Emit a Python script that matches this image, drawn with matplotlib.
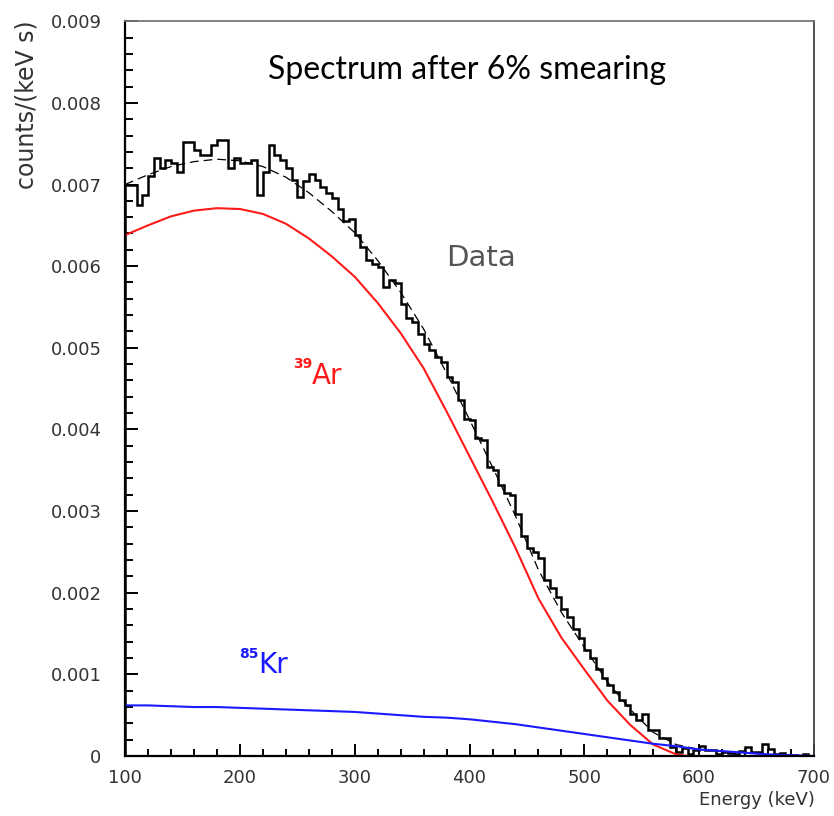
import numpy as np
import matplotlib.pyplot as plt
from matplotlib.ticker import MultipleLocator, FuncFormatter

# histogram: 5 keV bins from 100 to 700 keV, values in units of 1e-3 counts/(keV s)
bin_edges = np.arange(100, 701, 5)
data_counts = [
    7.00, 6.99, 6.75, 6.87, 7.11, 7.32, 7.20, 7.30, 7.26, 7.15,
    7.52, 7.52, 7.42, 7.36, 7.36, 7.48, 7.54, 7.54, 7.20, 7.32,
    7.26, 7.26, 7.30, 6.87, 7.15, 7.48, 7.36, 7.30, 7.20, 7.05,
    6.85, 7.04, 7.13, 7.05, 6.97, 6.89, 6.83, 6.70, 6.55, 6.58,
    6.38, 6.24, 6.07, 6.03, 5.99, 5.75, 5.83, 5.79, 5.54, 5.36,
    5.32, 5.17, 5.05, 4.97, 4.89, 4.83, 4.64, 4.58, 4.36, 4.13,
    4.11, 3.89, 3.87, 3.54, 3.50, 3.32, 3.22, 3.20, 2.97, 2.70,
    2.55, 2.50, 2.42, 2.15, 2.06, 1.95, 1.80, 1.70, 1.55, 1.44,
    1.30, 1.20, 1.07, 0.95, 0.87, 0.79, 0.69, 0.62, 0.52, 0.44,
    0.52, 0.32, 0.32, 0.22, 0.22, 0.11, 0.05, 0.10, 0.02, 0.07,
    0.12, 0.07, 0.07, 0.03, 0.05, 0.04, 0.03, 0.06, 0.11, 0.05,
    0.05, 0.15, 0.09, 0.03, 0.04, 0.00, 0.01, 0.00, 0.02, 0.00,
]

# 39Ar component
ar_energy = [100, 120, 140, 160, 180, 200, 220, 240, 260, 280, 300, 320, 340,
             360, 380, 400, 420, 440, 460, 480, 500, 520, 540, 560, 580, 590]
ar_values = [6.38, 6.50, 6.61, 6.68, 6.71, 6.70, 6.64, 6.52, 6.34, 6.12, 5.87,
             5.55, 5.18, 4.75, 4.22, 3.67, 3.12, 2.55, 1.93, 1.45, 1.06, 0.68,
             0.38, 0.14, 0.02, 0.00]

# 85Kr component
kr_energy = [100, 120, 140, 160, 180, 200, 220, 240, 260, 280, 300, 320, 340,
             360, 380, 400, 420, 440, 460, 480, 500, 520, 540, 560, 580, 600,
             620, 640, 660, 680, 700]
kr_values = [0.62, 0.62, 0.61, 0.60, 0.60, 0.59, 0.58, 0.57, 0.56, 0.55, 0.54,
             0.52, 0.50, 0.48, 0.47, 0.45, 0.42, 0.39, 0.35, 0.31, 0.27, 0.23,
             0.19, 0.15, 0.12, 0.08, 0.06, 0.04, 0.02, 0.01, 0.00]

# total fit (dashed)
fit_energy = kr_energy
fit_values = [7.00, 7.12, 7.22, 7.28, 7.31, 7.29, 7.22, 7.09, 6.90, 6.67, 6.41,
              6.07, 5.68, 5.23, 4.69, 4.12, 3.54, 2.94, 2.28, 1.76, 1.33, 0.91,
              0.57, 0.29, 0.14, 0.08, 0.06, 0.04, 0.02, 0.01, 0.00]

scale = 1e-3

fig = plt.figure(figsize=(8.34, 8.16), dpi=100)
ax = fig.add_axes([0.150, 0.0735, 0.826, 0.9005])

ax.stairs(np.array(data_counts) * scale, bin_edges, color="black", lw=1.8)
ax.plot(fit_energy, np.array(fit_values) * scale, color="black", lw=0.9,
        ls=(0, (7, 4)))
ax.plot(ar_energy, np.array(ar_values) * scale, color="#ff1a1a", lw=1.5)
ax.plot(kr_energy, np.array(kr_values) * scale, color="#1a1aff", lw=1.5)

ax.set_xlim(100, 700)
ax.set_ylim(0, 0.009)

ax.xaxis.set_major_locator(MultipleLocator(100))
ax.xaxis.set_minor_locator(MultipleLocator(20))
ax.yaxis.set_major_locator(MultipleLocator(0.001))
ax.yaxis.set_minor_locator(MultipleLocator(0.0002))
ax.yaxis.set_major_formatter(FuncFormatter(lambda v, p: "0" if abs(v) < 1e-9 else f"{v:.3f}"))

ax.tick_params(which="both", direction="in", top=False, right=False,
               colors="black", labelcolor="#333333", labelsize=13, width=1.4)
ax.tick_params(axis="y", which="major", length=9, pad=17)
ax.tick_params(axis="y", which="minor", length=5.5)
ax.tick_params(axis="x", which="major", length=9, pad=9)
ax.tick_params(axis="x", which="minor", length=5)

for side in ["left", "bottom"]:
    ax.spines[side].set_linewidth(1.6)
    ax.spines[side].set_color("black")
ax.spines["right"].set_linewidth(1.3)
ax.spines["right"].set_color("#444444")
ax.spines["top"].set_linewidth(1.3)
ax.spines["top"].set_color("#777777")

# labels
fig.text(815 / 834, 1 - 800 / 816, "Energy (keV)", ha="right", va="center",
         fontsize=13, color="#333333")
fig.text(27 / 834, 1 - 20 / 816, "counts/(keV s)", rotation=90, ha="center",
         va="top", fontsize=17, color="#333333")

ax.text(0.496, 0.934, "Spectrum after 6% smearing", transform=ax.transAxes,
        ha="center", va="center", fontsize=23, family="Lato", color="black")
ax.text(410, 0.00610, "Data", ha="center", va="center", fontsize=21,
        color="#555555")

# isotope labels: small superscript mass number + element
ax.text(276, 0.00466, "Ar", ha="center", va="center", fontsize=20,
        color="#ff1a1a")
ax.text(263, 0.00480, "39", ha="right", va="center", fontsize=10,
        color="#ff1a1a", fontweight="bold")
ax.text(229, 0.00111, "Kr", ha="center", va="center", fontsize=20,
        color="#1a1aff")
ax.text(216, 0.00125, "85", ha="right", va="center", fontsize=10,
        color="#1a1aff", fontweight="bold")

fig.savefig("out.png", dpi=100, facecolor="white")
